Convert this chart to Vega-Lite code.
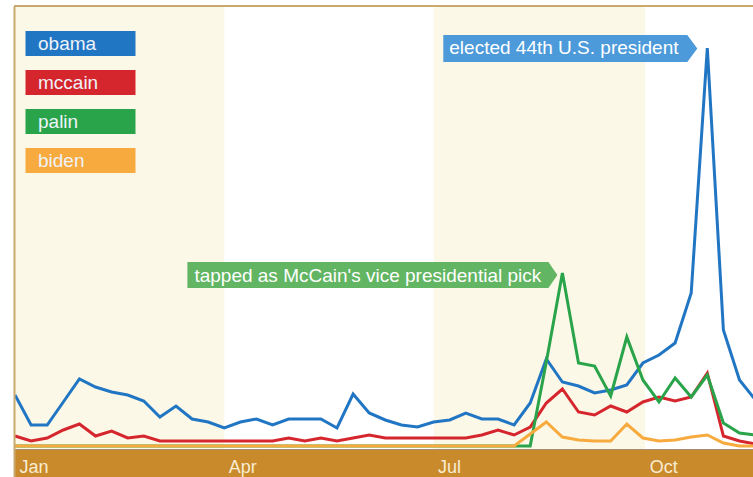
{
  "$schema": "https://vega.github.io/schema/vega-lite/v6.json",
  "width": 739,
  "height": 471,
  "autosize": {"type": "none"},
  "padding": {"left": 14, "top": 6, "right": 0, "bottom": 0},
  "background": "white",
  "config": {"view": {"stroke": null, "fill": "white"}, "font": "Liberation Sans"},
  "datasets": {
    "trends": [
      {"date": "2008-01-01", "obama": 12.75, "mccain": 2.5, "palin": 0, "biden": 0},
      {"date": "2008-01-08", "obama": 5.25, "mccain": 1.25, "palin": 0, "biden": 0},
      {"date": "2008-01-15", "obama": 5.25, "mccain": 2, "palin": 0, "biden": 0},
      {"date": "2008-01-22", "obama": 11, "mccain": 4, "palin": 0, "biden": 0},
      {"date": "2008-01-29", "obama": 16.75, "mccain": 5.5, "palin": 0, "biden": 0},
      {"date": "2008-02-05", "obama": 14.75, "mccain": 2.5, "palin": 0, "biden": 0},
      {"date": "2008-02-12", "obama": 13.5, "mccain": 3.75, "palin": 0, "biden": 0},
      {"date": "2008-02-19", "obama": 12.75, "mccain": 2, "palin": 0, "biden": 0},
      {"date": "2008-02-26", "obama": 11.25, "mccain": 2.5, "palin": 0, "biden": 0},
      {"date": "2008-03-04", "obama": 7.25, "mccain": 1.25, "palin": 0, "biden": 0},
      {"date": "2008-03-11", "obama": 10, "mccain": 1.25, "palin": 0, "biden": 0},
      {"date": "2008-03-18", "obama": 6.75, "mccain": 1.25, "palin": 0, "biden": 0},
      {"date": "2008-03-25", "obama": 6, "mccain": 1.25, "palin": 0, "biden": 0},
      {"date": "2008-04-01", "obama": 4.5, "mccain": 1.25, "palin": 0, "biden": 0},
      {"date": "2008-04-08", "obama": 6, "mccain": 1.25, "palin": 0, "biden": 0},
      {"date": "2008-04-15", "obama": 6.75, "mccain": 1.25, "palin": 0, "biden": 0},
      {"date": "2008-04-22", "obama": 5.25, "mccain": 1.25, "palin": 0, "biden": 0},
      {"date": "2008-04-29", "obama": 6.75, "mccain": 2, "palin": 0, "biden": 0},
      {"date": "2008-05-06", "obama": 6.75, "mccain": 1.25, "palin": 0, "biden": 0},
      {"date": "2008-05-13", "obama": 6.75, "mccain": 2, "palin": 0, "biden": 0},
      {"date": "2008-05-20", "obama": 4.5, "mccain": 1.25, "palin": 0, "biden": 0},
      {"date": "2008-05-27", "obama": 13, "mccain": 2, "palin": 0, "biden": 0},
      {"date": "2008-06-03", "obama": 8.25, "mccain": 2.75, "palin": 0, "biden": 0},
      {"date": "2008-06-10", "obama": 6.5, "mccain": 2, "palin": 0, "biden": 0},
      {"date": "2008-06-17", "obama": 5.25, "mccain": 2, "palin": 0, "biden": 0},
      {"date": "2008-06-24", "obama": 4.75, "mccain": 2, "palin": 0, "biden": 0},
      {"date": "2008-07-01", "obama": 6, "mccain": 2, "palin": 0, "biden": 0},
      {"date": "2008-07-08", "obama": 6.5, "mccain": 2, "palin": 0, "biden": 0},
      {"date": "2008-07-15", "obama": 8.25, "mccain": 2, "palin": 0, "biden": 0},
      {"date": "2008-07-22", "obama": 6.75, "mccain": 2.75, "palin": 0, "biden": 0},
      {"date": "2008-07-29", "obama": 6.75, "mccain": 4, "palin": 0, "biden": 0},
      {"date": "2008-08-05", "obama": 5.25, "mccain": 2.75, "palin": 0, "biden": 0},
      {"date": "2008-08-12", "obama": 10.75, "mccain": 4.75, "palin": 0, "biden": 3},
      {"date": "2008-08-19", "obama": 21.75, "mccain": 10.75, "palin": 21, "biden": 6},
      {"date": "2008-08-26", "obama": 16, "mccain": 14.25, "palin": 43.25, "biden": 2.25},
      {"date": "2008-09-02", "obama": 15, "mccain": 8.5, "palin": 20.75, "biden": 1.5},
      {"date": "2008-09-09", "obama": 13.25, "mccain": 7.75, "palin": 20, "biden": 1.25},
      {"date": "2008-09-16", "obama": 14, "mccain": 10, "palin": 12.5, "biden": 1.25},
      {"date": "2008-09-23", "obama": 15.25, "mccain": 8.5, "palin": 27.25, "biden": 5.5},
      {"date": "2008-09-30", "obama": 20.75, "mccain": 11, "palin": 16.5, "biden": 2},
      {"date": "2008-10-07", "obama": 22.75, "mccain": 12.25, "palin": 11, "biden": 1.25},
      {"date": "2008-10-14", "obama": 25.75, "mccain": 11.25, "palin": 17, "biden": 1.5},
      {"date": "2008-10-21", "obama": 38.25, "mccain": 12.25, "palin": 12.25, "biden": 2.25},
      {"date": "2008-10-28", "obama": 99.5, "mccain": 18.25, "palin": 17.75, "biden": 2.75},
      {"date": "2008-11-04", "obama": 29, "mccain": 2.5, "palin": 5.75, "biden": 0.75},
      {"date": "2008-11-11", "obama": 16.5, "mccain": 1.25, "palin": 3.25, "biden": 0},
      {"date": "2008-11-18", "obama": 11.5, "mccain": 0.5, "palin": 2.75, "biden": 0}
    ],
    "quarters": [
      {"start": "2007-12-01", "end": "2008-04-01"},
      {"start": "2008-07-01", "end": "2008-10-01"}
    ],
    "notes": [
      {"candidate": "obama", "date": "2008-10-28", "value": 99.5, "label": "elected 44th U.S. president"},
      {"candidate": "palin", "date": "2008-08-26", "value": 43.25, "label": "tapped as McCain's vice presidential pick"}
    ]
  },
  "layer": [
    {
      "data": {"name": "quarters"},
      "mark": {"type": "rect", "color": "#fcf8e8", "clip": true},
      "encoding": {
        "x": {"field": "start", "type": "temporal"},
        "x2": {"field": "end"}
      }
    },
    {
      "data": {"name": "trends"},
      "transform": [{"fold": ["obama", "mccain", "palin", "biden"], "as": ["key", "value"]}],
      "mark": {"type": "line", "strokeWidth": 3, "clip": true},
      "encoding": {
        "x": {
          "field": "date", "type": "temporal",
          "scale": {"type": "utc", "domain": [1199108035000, 1226868731000]},
          "axis": {
            "values": [1199145600000, 1207008000000, 1214870400000, 1222819200000],
            "labelExpr": "utcFormat(datum.value, '%b')",
            "offset": -28, "domain": true, "domainColor": "#a58e72", "domainWidth": 1,
            "ticks": false, "grid": false, "labelAlign": "left", "labelBaseline": "alphabetic",
            "labelPadding": 23.5, "labelOffset": 4, "labelFontSize": 18, "labelColor": "#f8ecd2",
            "labelFont": "Liberation Sans", "title": null, "zindex": 1, "labelFlush": false, "labelOverlap": false
          }
        },
        "y": {
          "field": "value", "type": "quantitative",
          "scale": {"domain": [-7.75, 110], "nice": false, "zero": false},
          "axis": {"domain": true, "domainColor": "#c9a96e", "domainWidth": 2, "labels": false, "ticks": false, "grid": false, "title": null, "zindex": 1}
        },
        "color": {
          "field": "key", "type": "nominal",
          "scale": {"domain": ["obama", "mccain", "palin", "biden"], "range": ["#2176c4", "#d6262d", "#2aa44a", "#f7aa3e"]},
          "legend": {
            "orient": "none", "legendX": 3, "legendY": 28, "title": null,
            "symbolType": "M-1,-12.5H109V12.5H-1Z", "symbolSize": 4, "symbolStrokeWidth": 0, "symbolOpacity": 1,
            "labelOffset": 2, "labelFontSize": 19, "labelColor": "#eef3f9", "labelFont": "Liberation Sans",
            "rowPadding": 14, "padding": 0, "labelLimit": 200,
            "encode": {"symbols": {"update": {"fill": {"scale": "color", "field": "value"}, "stroke": {"value": "transparent"}}}}
          }
        }
      }
    },
    {
      "data": {"values": [{}]},
      "mark": {"type": "rect", "color": "#c98a2b"},
      "encoding": {"y": {"datum": -0.75}, "y2": {"datum": -7.75}}
    },
    {
      "data": {"values": [{}]},
      "mark": {"type": "rule", "color": "#c9a96e", "strokeWidth": 2},
      "encoding": {"y": {"datum": 110}}
    },
    {
      "data": {"name": "notes"},
      "transform": [{"filter": "datum.candidate == 'obama'"}],
      "mark": {"type": "point", "filled": true, "size": 4, "opacity": 1, "strokeWidth": 0, "color": "#4c9ad9",
               "shape": "M-264,-13L-20,-13L-10,0.5L-20,14L-264,14Z"},
      "encoding": {"x": {"field": "date", "type": "temporal"}, "y": {"field": "value", "type": "quantitative"}}
    },
    {
      "data": {"name": "notes"},
      "transform": [{"filter": "datum.candidate == 'obama'"}],
      "mark": {"type": "text", "align": "left", "baseline": "alphabetic", "dx": -258, "dy": 6.3, "fontSize": 19, "color": "#ffffff", "font": "Liberation Sans"},
      "encoding": {"x": {"field": "date", "type": "temporal"}, "y": {"field": "value", "type": "quantitative"}, "text": {"field": "label"}}
    },
    {
      "data": {"name": "notes"},
      "transform": [{"filter": "datum.candidate == 'palin'"}],
      "mark": {"type": "point", "filled": true, "size": 4, "opacity": 1, "strokeWidth": 0, "color": "#62b562",
               "shape": "M-375,-11L-14,-11L-5,2L-14,15L-375,15Z"},
      "encoding": {"x": {"field": "date", "type": "temporal"}, "y": {"field": "value", "type": "quantitative"}}
    },
    {
      "data": {"name": "notes"},
      "transform": [{"filter": "datum.candidate == 'palin'"}],
      "mark": {"type": "text", "align": "left", "baseline": "alphabetic", "dx": -368, "dy": 8.7, "fontSize": 19, "color": "#ffffff", "font": "Liberation Sans"},
      "encoding": {"x": {"field": "date", "type": "temporal"}, "y": {"field": "value", "type": "quantitative"}, "text": {"field": "label"}}
    }
  ]
}
